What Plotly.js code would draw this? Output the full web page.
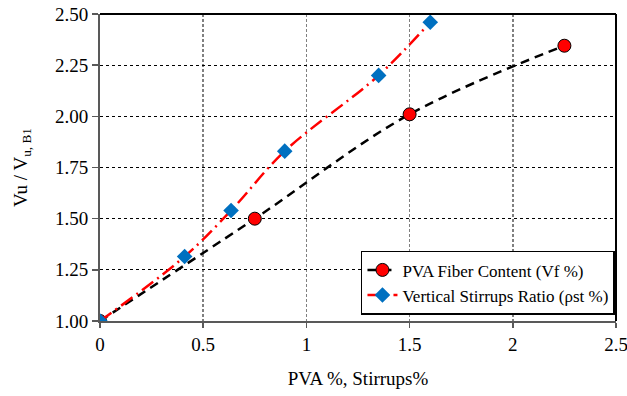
<!DOCTYPE html>
<html>
<head>
<meta charset="utf-8">
<script src="https://cdn.plot.ly/plotly-3.0.1.min.js"></script>
<style>
  html, body { margin: 0; padding: 0; background: #fff; }
  #chart { width: 627px; height: 396px; }
</style>
</head>
<body>
<div id="chart"></div>
<script>
// PVA fiber content series
const pvaX = [0, 0.75, 1.5, 2.25];
const pvaY = [1.00, 1.50, 2.01, 2.345];

// Vertical stirrups ratio series
const stirX = [0, 0.41, 0.635, 0.895, 1.35, 1.60];
const stirY = [1.00, 1.315, 1.54, 1.83, 2.20, 2.46];

const xTicks = [0, 0.5, 1, 1.5, 2, 2.5];
const yTicks = [1.00, 1.25, 1.50, 1.75, 2.00, 2.25, 2.50];

const serif = 'Liberation Serif';

const traces = [
  {
    x: pvaX, y: pvaY, name: 'PVA Fiber Content (Vf %)',
    type: 'scatter', mode: 'lines+markers',
    line: { color: '#000000', width: 2.5, dash: '9px,6px', shape: 'spline' },
    marker: { symbol: 'circle', size: 13, color: '#ff0000', line: { color: '#000000', width: 1 } }
  },
  {
    x: stirX, y: stirY, name: 'Vertical Stirrups Ratio (\u03c1st %)',
    type: 'scatter', mode: 'lines+markers',
    line: { color: '#ff0000', width: 2.5, dash: '14px,5px,2px,5px', shape: 'spline' },
    marker: { symbol: 'diamond', size: 12, color: '#0070c0' }
  }
];

const layout = {
  width: 627, height: 396,
  margin: { l: 100, r: 11, t: 14, b: 75 },
  paper_bgcolor: '#ffffff', plot_bgcolor: '#ffffff',
  font: { family: serif, size: 19, color: '#000000' },
  showlegend: true,
  legend: {
    x: 0.998, y: 0.02, xanchor: 'right', yanchor: 'bottom',
    bgcolor: '#ffffff', bordercolor: '#000000', borderwidth: 1.5,
    font: { family: serif, size: 17, color: '#000000' },
    itemwidth: 30, tracegroupgap: 0
  },
  xaxis: {
    range: [0, 2.5], tickvals: xTicks, ticktext: xTicks.map(String),
    ticklabeloverflow: 'allow',
    showline: true, linecolor: '#595959', linewidth: 2,
    ticks: 'outside', ticklen: 5, tickcolor: '#595959', tickwidth: 1.5,
    showgrid: true, gridcolor: '#808080', gridwidth: 1.5, griddash: '3px,2px',
    zeroline: false,
    tickfont: { family: serif, size: 19 },
    title: { text: 'PVA %, Stirrups%', font: { family: serif, size: 19 }, standoff: 18 }
  },
  yaxis: {
    range: [1, 2.5], tickvals: yTicks, tickformat: '.2f',
    showline: true, linecolor: '#595959', linewidth: 2,
    ticks: 'outside', ticklen: 6, tickcolor: '#595959', tickwidth: 1.5,
    showgrid: true, gridcolor: '#000000', gridwidth: 1, griddash: 'dot',
    zeroline: false,
    tickfont: { family: serif, size: 19 },
    title: { text: 'Vu / V<sub>u, B1</sub>', font: { family: serif, size: 19 }, standoff: 22 }
  },
  shapes: [
    { type: 'line', xref: 'paper', yref: 'paper', x0: 0, x1: 1, y0: 1, y1: 1,
      line: { color: '#000000', width: 2 } },
    { type: 'line', xref: 'paper', yref: 'paper', x0: 1, x1: 1, y0: 0, y1: 1,
      line: { color: '#000000', width: 2 } }
  ]
};

Plotly.newPlot('chart', traces, layout, { displayModeBar: false, staticPlot: true });
</script>
</body>
</html>
